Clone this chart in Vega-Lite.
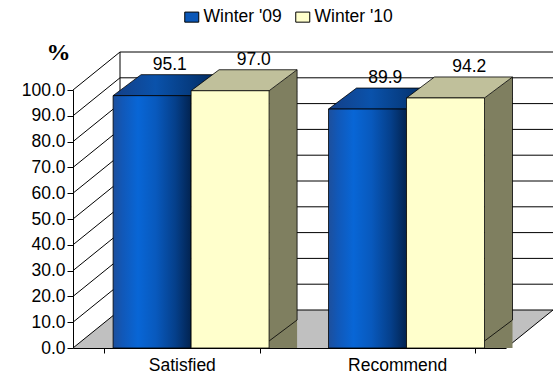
{
  "$schema": "https://vega.github.io/schema/vega-lite/v6.json",
  "width": 433,
  "height": 258,
  "autosize": {"type": "none"},
  "padding": {"left": 73, "top": 90, "right": 52, "bottom": 31},
  "background": "white",
  "config": {
    "view": {"stroke": null},
    "font": "Liberation Sans",
    "axisY": {"tickCount": 11, "labelOverlap": false, "format": ".1f", "grid": false, "tickSize": 6, "labelPadding": 2, "labelFontSize": 17.5, "labelFont": "Liberation Sans", "labelColor": "black", "domainColor": "black", "tickColor": "black", "zindex": 1},
    "axisX": {"labelAngle": 0, "tickBand": "extent", "tickSize": 5, "labelPadding": 3, "labelFontSize": 17.5, "labelFont": "Liberation Sans", "labelColor": "black", "domainColor": "black", "tickColor": "black", "zindex": 1}
  },
  "datasets": {
    "bars": [
      {"cat": "Satisfied", "series": "Winter '09", "v": 95.1},
      {"cat": "Satisfied", "series": "Winter '10", "v": 97.0},
      {"cat": "Recommend", "series": "Winter '09", "v": 89.9},
      {"cat": "Recommend", "series": "Winter '10", "v": 94.2}
    ],
    "ticks": [{"v": 0}, {"v": 10}, {"v": 20}, {"v": 30}, {"v": 40}, {"v": 50}, {"v": 60}, {"v": 70}, {"v": 80}, {"v": 90}, {"v": 100}],
    "zero": [{"v": 0}],
    "edge": [{"v": 0, "v2": 100}]
  },
  "layer": [
    {
      "data": {"name": "zero"},
      "mark": {"type": "point", "shape": "M0,0L2,0L2.217,-0.1755L0.217,-0.1755Z", "size": 187489, "filled": true, "fill": "#c0c0c0", "opacity": 1, "strokeWidth": 0},
      "encoding": {"x": {"value": 0}, "y": {"field": "v", "type": "quantitative"}}
    },
    {
      "data": {"name": "ticks"},
      "mark": {"type": "rule", "color": "black", "strokeWidth": 1, "xOffset": 47, "x2Offset": 47, "yOffset": -38},
      "encoding": {
        "x": {"value": 0},
        "x2": {"value": "width"},
        "y": {
          "field": "v", "type": "quantitative",
          "scale": {"domain": [0, 100], "nice": false},
          "axis": {
            "values": [0, 10, 20, 30, 40, 50, 60, 70, 80, 90, 100],
            "labelOverlap": false,
            "title": "%", "titleAngle": 0, "titleX": -15, "titleY": -38,
            "titleAlign": "center", "titleBaseline": "middle",
            "titleFont": "Liberation Serif", "titleFontSize": 24, "titleFontWeight": "bold", "titleColor": "black"
          }
        }
      }
    },
    {
      "data": {"name": "ticks"},
      "mark": {"type": "rule", "color": "black", "strokeWidth": 1, "x2Offset": 47, "y2Offset": -38},
      "encoding": {"x": {"value": 0}, "x2": {"value": 0}, "y": {"field": "v", "type": "quantitative"}, "y2": {"field": "v"}}
    },
    {
      "data": {"name": "edge"},
      "mark": {"type": "rule", "color": "black", "strokeWidth": 1, "xOffset": 47, "yOffset": -38, "y2Offset": -38},
      "encoding": {"x": {"value": 0}, "y": {"field": "v", "type": "quantitative"}, "y2": {"field": "v2"}}
    },
    {
      "data": {"name": "zero"},
      "mark": {"type": "rule", "color": "black", "strokeWidth": 1, "x2Offset": 47, "y2Offset": -38},
      "encoding": {"x": {"value": "width"}, "x2": {"value": "width"}, "y": {"field": "v", "type": "quantitative"}, "y2": {"field": "v"}}
    },
    {
      "data": {"name": "bars"},
      "mark": {"type": "bar", "width": {"band": 0.5}},
      "encoding": {
        "x": {
          "field": "cat", "type": "nominal", "sort": ["Satisfied", "Recommend"],
          "scale": {"paddingInner": 0.276, "paddingOuter": 0.143},
          "axis": {"title": null}
        },
        "y": {"field": "v", "type": "quantitative", "stack": null},
        "y2": {"field": "v"},
        "color": {
          "field": "series", "type": "nominal",
          "scale": {"domain": ["Winter '09", "Winter '10"], "range": ["#0b57b7", "#ffffcc"]},
          "legend": {
            "orient": "none", "legendX": 110, "legendY": -82, "direction": "horizontal", "title": null,
            "symbolType": "M-1,-0.72H1V0.72H-1Z", "symbolSize": 196,
            "symbolStrokeColor": "black", "symbolStrokeWidth": 1, "symbolOpacity": 1,
            "labelFontSize": 17.5, "labelFont": "Liberation Sans", "labelColor": "black",
            "labelOffset": 3, "columnPadding": 11, "padding": 0
          }
        }
      }
    },
    {
      "data": {"name": "bars"},
      "transform": [{"filter": "datum.series === \"Winter '09\""}],
      "encoding": {
        "x": {"field": "cat", "type": "nominal", "sort": ["Satisfied", "Recommend"]},
        "y": {"field": "v", "type": "quantitative", "stack": null}
      },
      "layer": [
        {"mark": {"type": "point", "shape": "M-1,0L1,0L1.718,-0.538L-0.282,-0.538Z", "size": 6084, "filled": true, "opacity": 1, "fill": {"gradient": "linear", "x1": 0, "y1": 0, "x2": 1, "y2": 0, "stops": [{"offset": 0, "color": "#143f86"}, {"offset": 0.4, "color": "#0a52ab"}, {"offset": 1, "color": "#02295c"}]}, "stroke": "black", "strokeWidth": 0.8, "xOffset": -29.7, "yOffset": -7}},
        {"mark": {"type": "bar", "width": {"band": 0.5}, "color": {"gradient": "linear", "x1": 0, "y1": 0, "x2": 1, "y2": 0, "stops": [{"offset": 0, "color": "#1d4f9c"}, {"offset": 0.12, "color": "#1158b8"}, {"offset": 0.32, "color": "#0866d6"}, {"offset": 0.55, "color": "#0859bd"}, {"offset": 0.8, "color": "#053f8a"}, {"offset": 1, "color": "#022350"}]}, "stroke": "black", "strokeWidth": 0.8, "xOffset": -29.7, "yOffset": -7, "y2Offset": -7}},
        {"mark": {"type": "text", "dx": -12, "dy": -38, "fontSize": 17.5, "font": "Liberation Sans", "color": "black", "baseline": "middle", "align": "center"}, "encoding": {"text": {"field": "v", "type": "quantitative", "format": ".1f"}}}
      ]
    },
    {
      "data": {"name": "bars"},
      "transform": [{"filter": "datum.series === \"Winter '10\""}],
      "encoding": {
        "x": {"field": "cat", "type": "nominal", "sort": ["Satisfied", "Recommend"]},
        "y": {"field": "v", "type": "quantitative", "stack": null}
      },
      "layer": [
        {"mark": {"type": "bar", "width": 28, "color": "#7f7f60", "xOffset": 101.3, "yOffset": -7, "y2Offset": -28}},
        {"mark": {"type": "point", "shape": "M1,0.03L1,0L1.718,-0.538L1.718,0.03Z", "size": 6084, "filled": true, "opacity": 1, "fill": "#7f7f60", "strokeWidth": 0, "xOffset": 48.3, "yOffset": -7}},
        {"mark": {"type": "point", "shape": "M1,-0.57L1,0L1.718,-0.538L1.718,-0.57Z", "size": 6084, "filled": true, "opacity": 1, "fill": "#7f7f60", "strokeWidth": 0, "xOffset": 48.3, "yOffset": -7}, "encoding": {"y": {"datum": 0, "type": "quantitative"}}},
        {"mark": {"type": "point", "shape": "M1,0L1.718,-0.538", "size": 6084, "filled": false, "opacity": 1, "stroke": "black", "strokeWidth": 0.8, "xOffset": 48.3, "yOffset": -7}, "encoding": {"y": {"datum": 0, "type": "quantitative"}}},
        {"mark": {"type": "rule", "color": "black", "strokeWidth": 0.8, "xOffset": 115.3, "yOffset": -28, "y2Offset": -28}, "encoding": {"y2": {"datum": 0}}},
        {"mark": {"type": "point", "shape": "M-1,0L1,0L1.718,-0.538L-0.282,-0.538Z", "size": 6084, "filled": true, "opacity": 1, "fill": "#c0c09b", "stroke": "black", "strokeWidth": 0.8, "xOffset": 48.3, "yOffset": -7}},
        {"mark": {"type": "bar", "width": {"band": 0.5}, "color": "#ffffcc", "stroke": "black", "strokeWidth": 0.8, "xOffset": 48.3, "yOffset": -7, "y2Offset": -7}},
        {"mark": {"type": "text", "dx": 72, "dy": -38, "fontSize": 17.5, "font": "Liberation Sans", "color": "black", "baseline": "middle", "align": "center"}, "encoding": {"text": {"field": "v", "type": "quantitative", "format": ".1f"}}}
      ]
    }
  ]
}
